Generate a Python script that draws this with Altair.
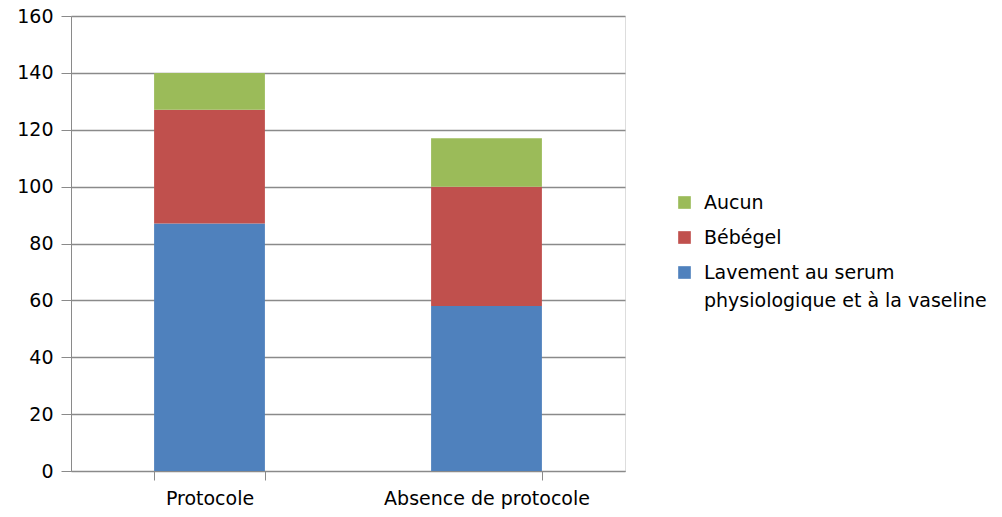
import altair as alt
import pandas as pd

# Stacked counts per group
groups = ["Protocole", "Absence de protocole"]
series = ["Aucun", "Bébégel", "Lavement au serum|physiologique et à la vaseline"]
lavement = [87, 58]
bebegel = [40, 42]
aucun = [13, 17]
colors = ["#9BBB59", "#C0504D", "#4F81BD"]

rows = []
for i, g in enumerate(groups):
    rows.append({"groupe": g, "serie": series[2], "valeur": lavement[i], "rang": 0})
    rows.append({"groupe": g, "serie": series[1], "valeur": bebegel[i], "rang": 1})
    rows.append({"groupe": g, "serie": series[0], "valeur": aucun[i], "rang": 2})
df = pd.DataFrame(rows)

FONT = "DejaVu Sans"
SIZE = 19
GRID = "#8a8a8a"

chart = (
    alt.Chart(df)
    .mark_bar()
    .encode(
        x=alt.X(
            "groupe:N",
            sort=groups,
            title=None,
            scale=alt.Scale(paddingInner=0.6, paddingOuter=0.3),
            axis=alt.Axis(
                labelAngle=0,
                tickBand="extent",
                tickSize=9,
                labelPadding=9,
                labelLimit=400,
                domainColor=GRID,
                tickColor=GRID,
                labelFont=FONT,
                labelFontSize=SIZE,
                labelColor="#000000",
                grid=False,
            ),
        ),
        y=alt.Y(
            "valeur:Q",
            stack="zero",
            title=None,
            scale=alt.Scale(domain=[0, 160], nice=False),
            axis=alt.Axis(
                values=list(range(0, 161, 20)),
                tickSize=10,
                labelPadding=8,
                domainColor=GRID,
                tickColor=GRID,
                gridColor=GRID,
                gridWidth=1.5,
                labelFont=FONT,
                labelFontSize=SIZE,
                labelColor="#000000",
            ),
        ),
        color=alt.Color(
            "serie:N",
            scale=alt.Scale(domain=series, range=colors),
            legend=alt.Legend(
                title=None,
                orient="none",
                legendX=604,
                legendY=177,
                symbolType="square",
                symbolSize=160,
                symbolStrokeWidth=0,
                labelFont=FONT,
                labelFontSize=SIZE,
                labelColor="#000000",
                labelLimit=400,
                labelOffset=10,
                rowPadding=15,
                labelExpr="split(datum.label, '|')",
            ),
        ),
        order=alt.Order("rang:Q", sort="ascending"),
    )
    .properties(
        width=554,
        height=455,
        autosize=alt.AutoSizeParams(type="none"),
        padding={"left": 71, "top": 16, "right": 377, "bottom": 46},
    )
    .configure_view(stroke="transparent", strokeWidth=0, strokeOpacity=0)
    .configure(background="#ffffff", style={"guide-label": {"lineHeight": 28}})
)

chart.save("out.html", embed_options={"renderer": "svg", "actions": False})
